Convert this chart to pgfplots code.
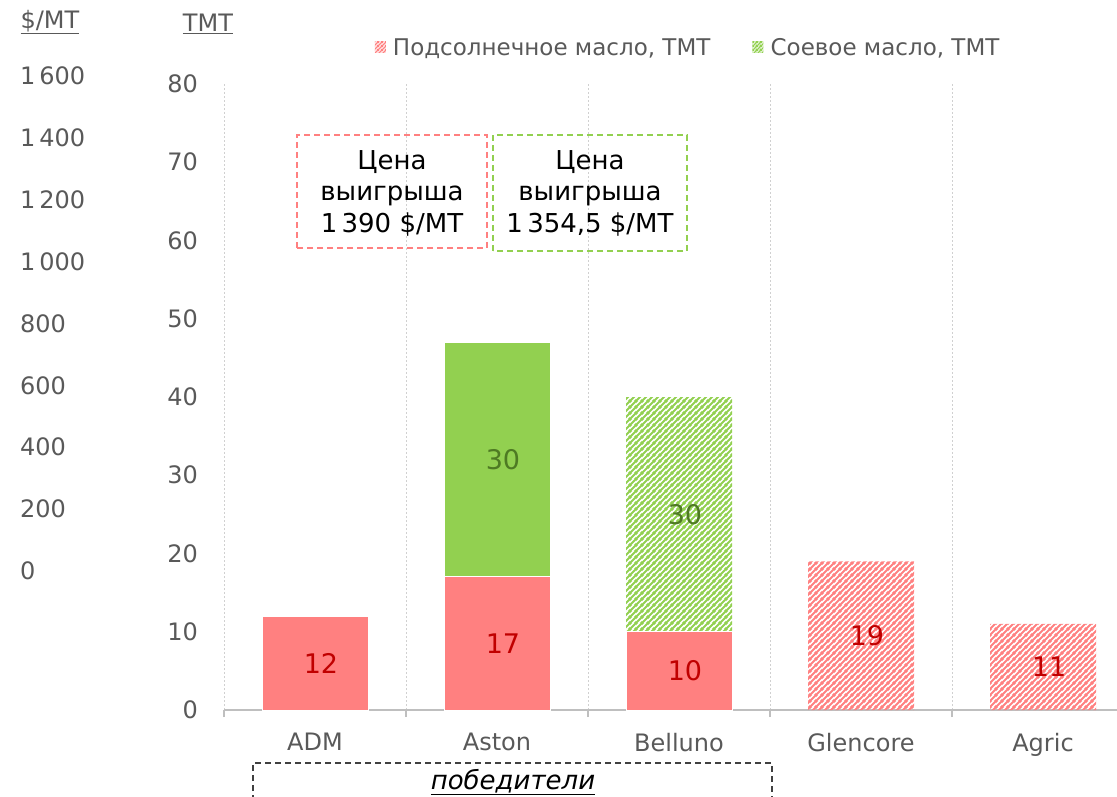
\documentclass[border=0pt]{standalone}
\usepackage{pgfplots}
\pgfplotsset{compat=1.18}
\usepackage{fontspec}
\setmainfont{DejaVu Sans}
\usetikzlibrary{patterns}
\pgfdeclarepatternformonly{myhatch}{\pgfqpoint{0pt}{0pt}}{\pgfqpoint{6pt}{6pt}}{\pgfqpoint{6pt}{6pt}}{%
  \pgfsetlinewidth{2.3pt}%
  \pgfpathmoveto{\pgfqpoint{-1pt}{-1pt}}\pgfpathlineto{\pgfqpoint{7pt}{7pt}}%
  \pgfpathmoveto{\pgfqpoint{-4pt}{2pt}}\pgfpathlineto{\pgfqpoint{4pt}{10pt}}%
  \pgfpathmoveto{\pgfqpoint{2pt}{-4pt}}\pgfpathlineto{\pgfqpoint{10pt}{4pt}}%
  \pgfusepath{stroke}}
\pgfdeclarepatternformonly{smallhatch}{\pgfqpoint{0pt}{0pt}}{\pgfqpoint{3.5pt}{3.5pt}}{\pgfqpoint{3.5pt}{3.5pt}}{%
  \pgfsetlinewidth{1.4pt}%
  \pgfpathmoveto{\pgfqpoint{-1pt}{-1pt}}\pgfpathlineto{\pgfqpoint{4.5pt}{4.5pt}}%
  \pgfpathmoveto{\pgfqpoint{-2.5pt}{1pt}}\pgfpathlineto{\pgfqpoint{2.5pt}{6pt}}%
  \pgfpathmoveto{\pgfqpoint{1pt}{-2.5pt}}\pgfpathlineto{\pgfqpoint{6pt}{2.5pt}}%
  \pgfusepath{stroke}}
\definecolor{redc}{HTML}{FF8080}
\definecolor{greenc}{HTML}{92D050}
\definecolor{redlab}{HTML}{C00000}
\definecolor{greenlab}{HTML}{4E7A23}
\definecolor{txtgray}{HTML}{595959}
\definecolor{gridgray}{HTML}{D0D0D0}
\definecolor{axgray}{HTML}{BFBFBF}
\definecolor{boxgray}{HTML}{404040}
\tikzset{lab/.style={font=\fontsize{27}{32}\selectfont, xshift=6pt}}

\begin{document}
\begin{tikzpicture}
\useasboundingbox (0pt,0pt) rectangle (1117pt,796pt);
% secondary axis $/MT
\begin{axis}[
  at={(20pt,225pt)}, anchor=south west,
  scale only axis, width=10pt, height=495pt,
  ymin=0, ymax=1600, xmin=0, xmax=1,
  ytick={0,200,...,1600},
  hide x axis,
  axis y line*=left,
  y axis line style={draw=none},
  major tick length=0pt,
  yticklabel style={anchor=west, inner sep=0pt, font=\fontsize{24}{28}\selectfont, text=txtgray},
  /pgf/number format/1000 sep={\,},
  /pgf/number format/assume math mode=true,
]
\end{axis}
% main axis
\begin{axis}[
  at={(224pt,86pt)}, anchor=south west,
  scale only axis, width=910pt, height=626pt,
  xmin=-0.5, xmax=4.5, ymin=0, ymax=80,
  ybar stacked, bar width=106pt,
  xtick={0,1,2,3,4},
  xticklabels={ADM,Aston,Belluno,Glencore,Agric},
  minor xtick={-0.5,0.5,1.5,2.5,3.5,4.5},
  xminorgrids=true,
  minor x grid style={gridgray, dash pattern=on 2pt off 2pt, line width=0.8pt},
  axis x line*=bottom,
  x axis line style={axgray, line width=1.2pt},
  xtick align=outside,
  major tick length=0pt,
  minor tick length=7pt,
  minor tick style={axgray, line width=1.2pt},
  axis y line*=left,
  y axis line style={draw=none},
  ytick={0,10,...,80},
  yticklabel style={anchor=east, inner sep=0pt, xshift=-26pt, font=\fontsize{24}{28}\selectfont, text=txtgray},
  xticklabel style={anchor=north, inner sep=0pt, yshift=-23pt, font=\fontsize{24}{28}\selectfont, text=txtgray},
  /pgf/number format/assume math mode=true,
  clip=false,
]
% sunflower oil, solid (winners)
\addplot[fill=redc, draw=white, line width=1pt] coordinates {(0,12) (1,17) (2,10) (3,0) (4,0)};
% sunflower oil, hatched
\addplot[pattern=myhatch, pattern color=redc, draw=none] coordinates {(0,0) (1,0) (2,0) (3,19) (4,11)};
% soybean oil, solid
\addplot[fill=greenc, draw=white, line width=1pt] coordinates {(0,0) (1,30) (2,0) (3,0) (4,0)};
% soybean oil, hatched
\addplot[pattern=myhatch, pattern color=greenc, draw=none] coordinates {(0,0) (1,0) (2,30) (3,0) (4,0)};
% label anchors (centre of each segment)
\coordinate (l1) at (axis cs:0,6);
\coordinate (l2) at (axis cs:1,8.5);
\coordinate (l3) at (axis cs:1,32);
\coordinate (l4) at (axis cs:2,5);
\coordinate (l5) at (axis cs:2,25);
\coordinate (l6) at (axis cs:3,9.5);
\coordinate (l7) at (axis cs:4,5.5);
\end{axis}
% data labels
\node[lab, text=redlab] at (l1) {12};
\node[lab, text=redlab] at (l2) {17};
\node[lab, text=greenlab] at (l3) {30};
\node[lab, text=redlab] at (l4) {10};
\node[lab, text=greenlab] at (l5) {30};
\node[lab, text=redlab] at (l6) {19};
\node[lab, text=redlab] at (l7) {11};
% legend axis
\begin{axis}[
  at={(224pt,86pt)}, anchor=south west,
  scale only axis, width=910pt, height=626pt,
  xmin=0, xmax=1, ymin=0, ymax=1,
  hide axis,
  legend style={at={(0.51,1.0575)}, anchor=center, draw=none, fill=none,
     legend columns=2, font=\fontsize{23}{27}\selectfont, text=txtgray,
     /tikz/every even column/.append style={column sep=40pt},
     legend cell align=left},
]
\addlegendimage{legend image code/.code={\fill[draw=none, pattern=smallhatch, pattern color=redc] (-4pt,-5pt) rectangle (7pt,6pt); \path (12pt,0pt);}}
\addlegendentry{Подсолнечное масло, ТМТ}
\addlegendimage{legend image code/.code={\fill[draw=none, pattern=smallhatch, pattern color=greenc] (-4pt,-5pt) rectangle (7pt,6pt); \path (12pt,0pt);}}
\addlegendentry{Соевое масло, ТМТ}
\end{axis}
% axis titles
\node[text=txtgray, font=\fontsize{24}{28}\selectfont] at (50pt,774pt) {\underline{\$/MT}};
\node[text=txtgray, font=\fontsize{24}{28}\selectfont] at (208pt,772pt) {\underline{ТМТ}};
% price boxes
\draw[redc, dash pattern=on 6pt off 4pt, line width=1.3pt] (297pt,548pt) rectangle (487pt,661pt);
\node[align=center, font=\fontsize{26}{31.5}\selectfont] at (392pt,603pt) {Цена\\выигрыша\\1\,390 \$/MT};
\draw[greenc, dash pattern=on 6pt off 4pt, line width=1.3pt] (493pt,545pt) rectangle (687pt,661pt);
\node[align=center, font=\fontsize{26}{31.5}\selectfont] at (590pt,603pt) {Цена\\выигрыша\\1\,354,5 \$/MT};
% winners box
\draw[boxgray, dash pattern=on 6pt off 4pt, line width=1.3pt] (253pt,-5pt) rectangle (772pt,33pt);
\node[font=\fontsize{26}{30}\selectfont\itshape] at (513pt,14pt) {\underline{победители}};
\end{tikzpicture}
\end{document}
